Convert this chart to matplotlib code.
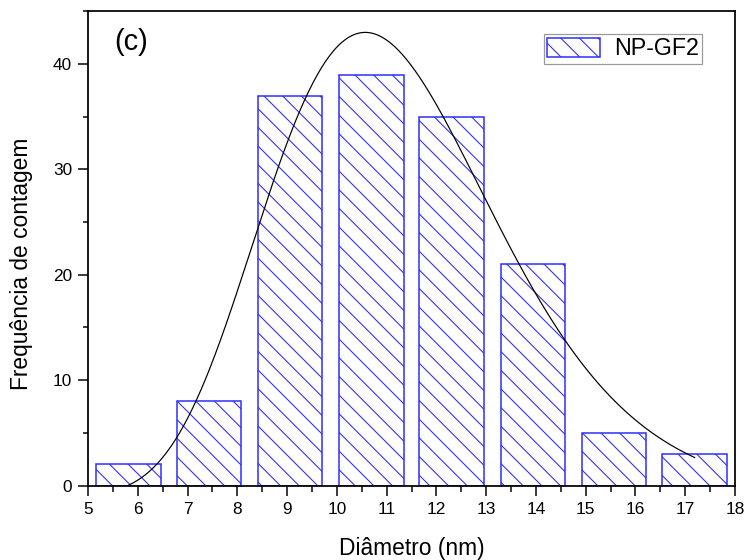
import numpy as np
import matplotlib
matplotlib.use("Agg")
import matplotlib.pyplot as plt
from matplotlib.ticker import MultipleLocator

# Histogram of particle diameters (bin centres in nm) and counts
bin_centers = [5.81, 7.43, 9.06, 10.69, 12.31, 13.94, 15.57, 17.19]
counts = [2, 8, 37, 39, 35, 21, 5, 3]
bar_width = 1.30

# Log-normal fit parameters: y = y0 + A*exp(-(ln(x/xc))^2 / (2 w^2))
fit_y0 = -1.0
fit_A = 44.0
fit_xc = 10.57
fit_w = 0.218

x_ticks = list(range(5, 19))
y_ticks = [0, 10, 20, 30, 40]

W, H = 746, 560
HATCH_SPACING_PX = 14.0


def hatch_spacing(dpi):
    """Horizontal pixel spacing of a single '\\' hatch at a given dpi."""
    f = plt.figure(figsize=(200 / dpi, 200 / dpi), dpi=dpi)
    a = f.add_axes([0, 0, 1, 1])
    a.set_axis_off()
    a.bar([0.5], [1], width=1, facecolor="white", edgecolor="blue",
          linewidth=0, hatch="\\")
    a.set_xlim(0, 1)
    a.set_ylim(0, 1)
    f.canvas.draw()
    buf = np.asarray(f.canvas.buffer_rgba())
    plt.close(f)
    row = buf[buf.shape[0] // 2, 10:-10, :3].astype(int)
    mask = (row[:, 2] - row[:, 0]) > 60
    starts = np.flatnonzero(mask[1:] & ~mask[:-1])
    if len(starts) < 2:
        return None
    return float(np.median(np.diff(starts)))


# pick the rendering dpi that gives the wanted hatch line spacing
best_dpi, best_err = 84, None
for d in range(56, 131, 2):
    s = hatch_spacing(d)
    if s is None:
        continue
    err = abs(s - HATCH_SPACING_PX)
    if best_err is None or err < best_err:
        best_dpi, best_err = d, err
DPI = best_dpi


def pt(px):
    return px * 72.0 / DPI


plt.rcParams["font.family"] = ["Liberation Sans", "DejaVu Sans"]
plt.rcParams["hatch.linewidth"] = pt(1.05)

fig = plt.figure(figsize=(W / DPI, H / DPI), dpi=DPI)
left, right, bottom, top = 88, 735, 485.5, 11.3
ax = fig.add_axes([left / W, 1 - bottom / H, (right - left) / W, (bottom - top) / H])

ax.bar(bin_centers, counts, width=bar_width, facecolor="white",
       edgecolor="#2a2aff", linewidth=pt(1.5), hatch="\\", label="NP-GF2", zorder=2)

xf = np.linspace(bin_centers[0], bin_centers[-1], 400)
yf = fit_y0 + fit_A * np.exp(-(np.log(xf / fit_xc)) ** 2 / (2 * fit_w ** 2))
ax.plot(xf, yf, color="black", linewidth=pt(1.2), zorder=3)

ax.set_xlim(5, 18)
ax.set_ylim(0, 45)
ax.set_xticks(x_ticks)
ax.set_yticks(y_ticks)
ax.xaxis.set_minor_locator(MultipleLocator(0.5))
ax.yaxis.set_minor_locator(MultipleLocator(5))

for s in ax.spines.values():
    s.set_linewidth(pt(1.75))
ax.tick_params(which="major", direction="out", length=pt(10), width=pt(1.5),
               labelsize=pt(17.3), pad=pt(6))
ax.tick_params(which="minor", direction="out", length=pt(5.5), width=pt(1.5))
ax.tick_params(top=False, right=False, which="both")

ax.set_xlabel("Diâmetro (nm)", fontsize=pt(22.8), labelpad=pt(21))
ax.set_ylabel("Frequência de contagem", fontsize=pt(22.8))
ax.yaxis.set_label_coords(-0.085, 0.468)

ax.text(0.04, 0.965, "(c)", transform=ax.transAxes, fontsize=pt(29),
        ha="left", va="top")

leg = ax.legend(loc="upper right",
                bbox_to_anchor=((702 - left) / (right - left), (bottom - 34) / (bottom - top)),
                borderaxespad=0, fontsize=pt(23.3), frameon=True, fancybox=False,
                handlelength=2.25, handleheight=0.85, handletextpad=0.6,
                borderpad=0.15)
leg.get_frame().set_edgecolor("#808080")
leg.get_frame().set_linewidth(pt(1.2))

fig.savefig("out.png", dpi=DPI)
